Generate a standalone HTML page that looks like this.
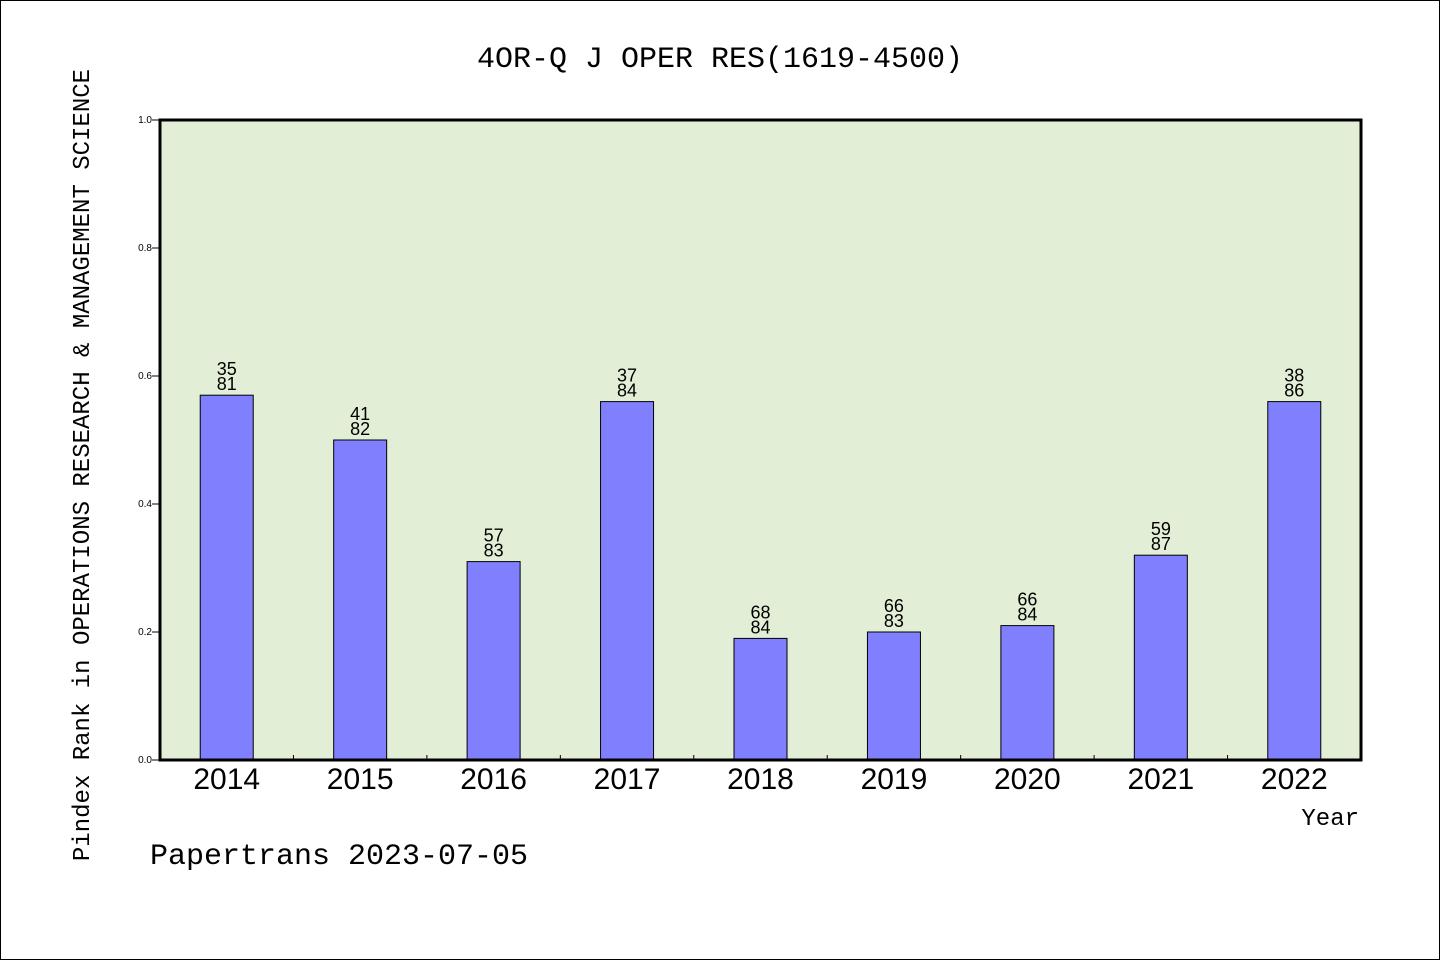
<!DOCTYPE html>
<html><head><meta charset="utf-8"><style>
html,body{margin:0;padding:0;background:#fff;}
svg{display:block;}
</style></head><body>
<svg width="1440" height="960" viewBox="0 0 1440 960" xmlns="http://www.w3.org/2000/svg" id="chart">
<rect x="0.5" y="0.5" width="1439" height="959" fill="#fff" stroke="#000"/>
<text x="720" y="67" text-anchor="middle" font-family="Liberation Mono, WenQuanYi Zen Hei, monospace" font-size="30">4OR-Q J OPER RES(1619-4500)</text>
<rect x="160" y="120" width="1201" height="640" fill="#e2efd6"/>
<g id="bars"></g>
<rect x="160" y="120" width="1201" height="640" fill="none" stroke="#000" stroke-width="3"/>
<g id="axes"></g>
<text transform="translate(89,465) rotate(-90)" text-anchor="middle" font-family="Liberation Mono, WenQuanYi Zen Hei, monospace" font-size="24">Pindex Rank in OPERATIONS RESEARCH &amp; MANAGEMENT SCIENCE</text>
<text x="1359" y="825" text-anchor="end" font-family="Liberation Mono, WenQuanYi Zen Hei, monospace" font-size="24">Year</text>
<text x="150" y="864" font-family="Liberation Mono, WenQuanYi Zen Hei, monospace" font-size="30">Papertrans 2023-07-05</text>
</svg>
<script>
const categories=["2014","2015","2016","2017","2018","2019","2020","2021","2022"];
const values=[0.57,0.5,0.31,0.56,0.19,0.2,0.21,0.32,0.56];
const rankTop=["35","41","57","37","68","66","66","59","38"];
const rankBottom=["81","82","83","84","84","83","84","87","86"];
const yTicks=[0,0.2,0.4,0.6,0.8,1.0];
const NS="http://www.w3.org/2000/svg";
const X0=160,X1=1361,Y0=760,Y1=120;
const band=(X1-X0)/categories.length;
const xC=i=>X0+(i+0.5)*band;
const yS=v=>Y0-(v-0)/(1-0)*(Y0-Y1);
const bars=document.getElementById('bars'),axes=document.getElementById('axes');
function mk(t,a,p){const e=document.createElementNS(NS,t);for(const k in a)e.setAttribute(k,a[k]);p.appendChild(e);return e;}
categories.forEach((c,i)=>{
 const b=mk('rect',{x:xC(i)-26.5,y:yS(values[i]),width:53,height:yS(0)-yS(values[i]),fill:'#8080ff',stroke:'#000','stroke-width':1},bars);
 
 
 const t1=mk('text',{x:xC(i),y:yS(values[i])-20,'text-anchor':'middle','font-family':'Liberation Sans, sans-serif','font-size':18},bars);
 t1.textContent=rankTop[i];
 
 
 const t2=mk('text',{x:xC(i),y:yS(values[i])-5,'text-anchor':'middle','font-family':'Liberation Sans, sans-serif','font-size':18},bars);
 t2.textContent=rankBottom[i];
 
 
 const xl=mk('text',{x:xC(i),y:789,'text-anchor':'middle','font-family':'Liberation Sans, sans-serif','font-size':30},axes);
 xl.textContent=c;
 
 
 if(i>0){const tk=mk('line',{x1:X0+i*band,x2:X0+i*band,y1:Y0,y2:Y0-5,stroke:'#000'},axes);
 
 }
});
yTicks.forEach(v=>{
 const tk=mk('line',{x1:X0-8,x2:X0,y1:yS(v),y2:yS(v),stroke:'#000'},axes);
 
 
 const l=mk('text',{x:X0-8,y:yS(v)+3,'text-anchor':'end','font-family':'Liberation Sans, sans-serif','font-size':10},axes);
 l.textContent=v.toFixed(1);
 
 
});
</script>
</body></html>
